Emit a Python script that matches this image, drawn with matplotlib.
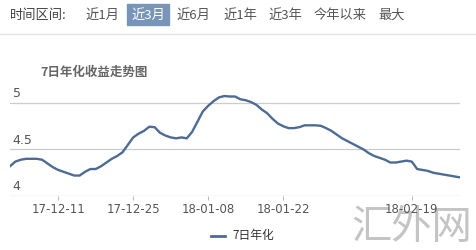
import numpy as np
import matplotlib
matplotlib.use("Agg")
from matplotlib import pyplot as plt
from matplotlib.patches import Rectangle
from matplotlib.lines import Line2D

plt.rcParams['font.family'] = ['Noto Sans CJK SC', 'DejaVu Sans']

# 7-day annualised yield, one value per trading day
yields = [4.32, 4.37, 4.39, 4.40, 4.40, 4.40, 4.39, 4.35, 4.31, 4.28,
          4.26, 4.24, 4.22, 4.22, 4.26, 4.29, 4.29, 4.32, 4.36, 4.40,
          4.43, 4.47, 4.55, 4.63, 4.67, 4.70, 4.745, 4.74, 4.68, 4.65,
          4.63, 4.62, 4.63, 4.62, 4.69, 4.80, 4.91, 4.97, 5.02, 5.06,
          5.075, 5.07, 5.07, 5.04, 5.03, 5.01, 4.98, 4.93, 4.89, 4.83,
          4.78, 4.75, 4.73, 4.73, 4.74, 4.76, 4.76, 4.76, 4.755, 4.73,
          4.70, 4.66, 4.62, 4.59, 4.56, 4.53, 4.50, 4.46, 4.43, 4.41,
          4.39, 4.36, 4.36, 4.37, 4.38, 4.37, 4.29, 4.28, 4.27, 4.25,
          4.24, 4.23, 4.22, 4.21, 4.20]
tick_idx = [9, 23, 37, 51, 75]
tick_labels = ['17-12-11', '17-12-25', '18-01-08', '18-01-22', '18-02-19']
y_ticks = [4, 4.5, 5]
y_labels = ['4', '4.5', '5']
ranges = ['近1月', '近3月', '近6月', '近1年', '近3年', '今年以来', '最大']
range_x = [102, 148, 193, 240, 285, 340, 392]
active = 1

W, H = 477, 250
fig = plt.figure(figsize=(W / 100, H / 100), dpi=100)
fig.patch.set_facecolor('white')

# top bar
fig.text(10 / W, 1 - 15 / H, '时间区间:', fontsize=9.5, color='#444444', va='center', ha='left')
for i, (lab, xc) in enumerate(zip(ranges, range_x)):
    col = '#555555'
    if i == active:
        fig.patches.append(Rectangle((127 / W, 1 - 25 / H), 42 / W, 21 / H,
                                     transform=fig.transFigure, color='#7894b6', zorder=0))
        col = 'white'
    fig.text(xc / W, 1 - 15 / H, lab, fontsize=9.5, color=col, va='center', ha='center')
fig.lines.append(Line2D([0, 1], [1 - 33.5 / H, 1 - 33.5 / H], transform=fig.transFigure,
                        color='#e3e3e3', lw=1))

# title
fig.text(40 / W, 1 - 72 / H, '7日年化收益走势图', fontsize=9, fontweight='bold',
         color='#666666', va='center', ha='left')

# watermark (behind everything else)
fig.text(412 / W, 1 - 228 / H, '汇外网', fontsize=29, color='#c4c4c4',
         va='center', ha='center', zorder=-5)

ax_l, ax_r = 10 / W, 460 / W
ax_b = (H - 196) / H
ymin, ymax = 4, 5.2
ax_h = (ymax - ymin) * 93 / H
ax = fig.add_axes([ax_l, ax_b, ax_r - ax_l, ax_h])
ax.patch.set_alpha(0)
x = np.arange(len(yields))
ax.plot(x, yields, color='#4d6b94', lw=1.7, solid_joinstyle='round')
ax.set_xlim(0, len(yields) - 1)
ax.set_ylim(ymin, ymax)

for s in ax.spines.values():
    s.set_visible(False)
for v in y_ticks[1:]:
    ax.axhline(v, color='#cccccc', lw=0.9, zorder=0)
ax.axhline(y_ticks[0], color='#bbbbbb', lw=0.9, zorder=0)
ax.set_yticks([])
for v, lab in zip(y_ticks, y_labels):
    ax.annotate(lab, xy=(0, v), xycoords=('axes fraction', 'data'), xytext=(2, 2),
                textcoords='offset points', fontsize=9, color='#555555',
                family='DejaVu Sans', ha='left', va='bottom')

ax.set_xticks(tick_idx)
ax.set_xticklabels(tick_labels, fontsize=8.5, color='#555555', family='DejaVu Sans')
ax.tick_params(axis='x', length=3, width=0.8, color='#bbbbbb', pad=2)

# legend
fig.lines.append(Line2D([211 / W, 225 / W], [1 - 236 / H, 1 - 236 / H], transform=fig.transFigure,
                        color='#4d6b94', lw=2))
fig.text(232 / W, 1 - 236 / H, '7日年化', fontsize=8.5, color='#333333', va='center', ha='left')

fig.savefig('out.png', dpi=100, facecolor='white')
